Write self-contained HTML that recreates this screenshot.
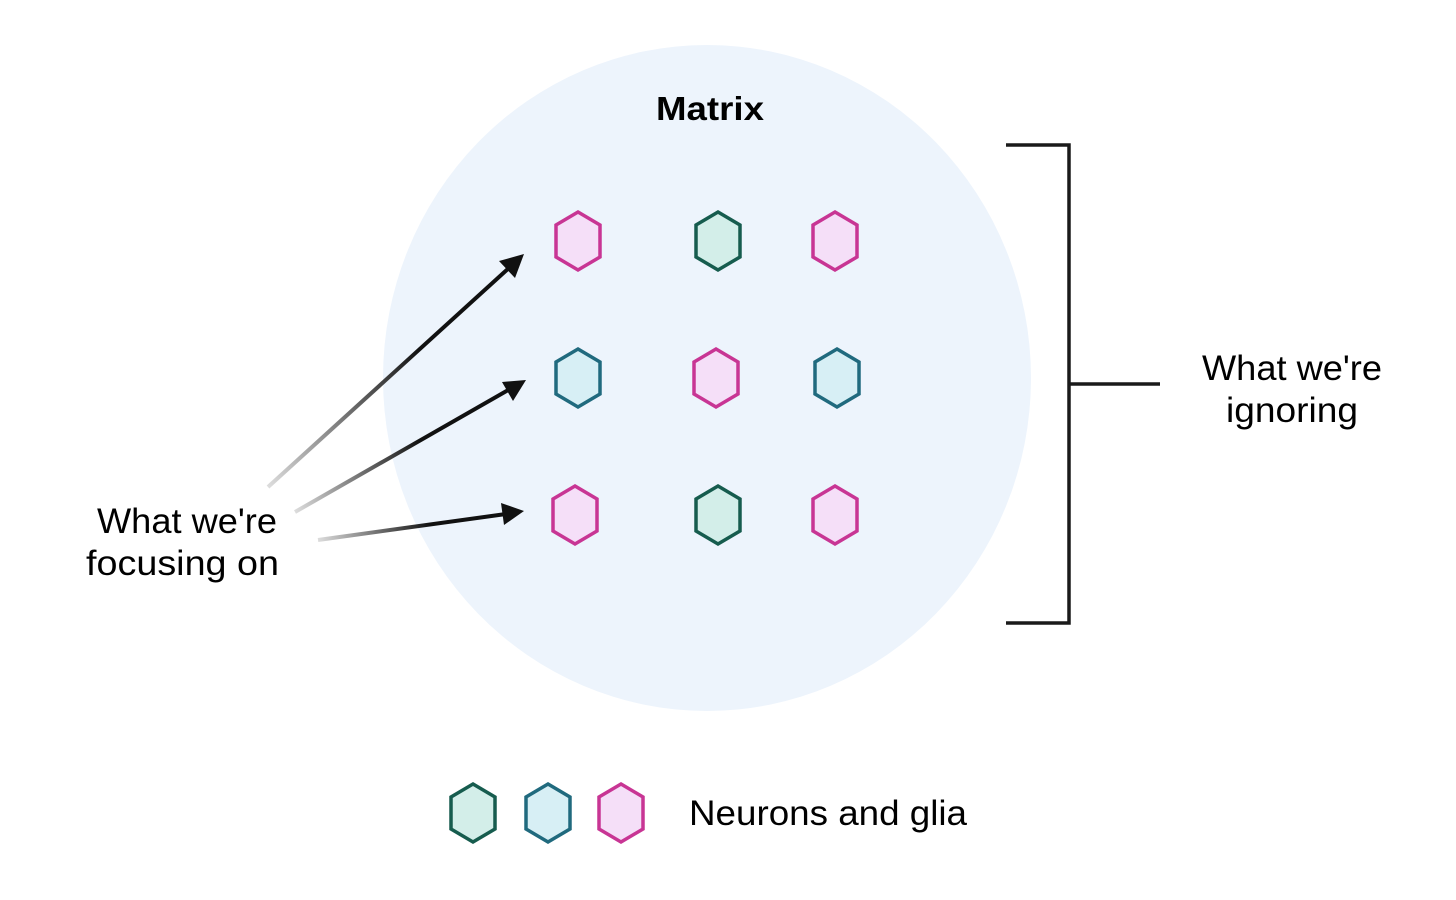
<!DOCTYPE html>
<html><head><meta charset="utf-8"><style>html,body{margin:0;padding:0;background:#fff}svg{display:block}</style></head><body>
<svg width="1456" height="900" viewBox="0 0 1456 900" xmlns="http://www.w3.org/2000/svg" font-family="Liberation Sans, sans-serif">
<defs>
<linearGradient id="g1" gradientUnits="userSpaceOnUse" x1="268" y1="487" x2="420" y2="350"><stop offset="0" stop-color="#ddd"/><stop offset="1" stop-color="#111"/></linearGradient>
<linearGradient id="g2" gradientUnits="userSpaceOnUse" x1="295" y1="512" x2="420" y2="440"><stop offset="0" stop-color="#ddd"/><stop offset="1" stop-color="#111"/></linearGradient>
<linearGradient id="g3" gradientUnits="userSpaceOnUse" x1="318" y1="540" x2="430" y2="524"><stop offset="0" stop-color="#ddd"/><stop offset="1" stop-color="#111"/></linearGradient>
</defs>
<ellipse cx="707" cy="378" rx="324" ry="333" fill="#edf4fc"/>
<text x="656" y="120" font-size="33" font-weight="bold" fill="#000" textLength="108" lengthAdjust="spacingAndGlyphs">Matrix</text>
<g stroke-width="3.5">
<polygon transform="translate(578,241)" points="0,-29 22,-16 22,16 0,29 -22,16 -22,-16" fill="#f5dff8" stroke="#c83594"/>
<polygon transform="translate(718,241)" points="0,-29 22,-16 22,16 0,29 -22,16 -22,-16" fill="#d3eee9" stroke="#165c4e"/>
<polygon transform="translate(835,241)" points="0,-29 22,-16 22,16 0,29 -22,16 -22,-16" fill="#f5dff8" stroke="#c83594"/>
<polygon transform="translate(578,378)" points="0,-29 22,-16 22,16 0,29 -22,16 -22,-16" fill="#d7eff5" stroke="#206a7e"/>
<polygon transform="translate(716,378)" points="0,-29 22,-16 22,16 0,29 -22,16 -22,-16" fill="#f5dff8" stroke="#c83594"/>
<polygon transform="translate(837,378)" points="0,-29 22,-16 22,16 0,29 -22,16 -22,-16" fill="#d7eff5" stroke="#206a7e"/>
<polygon transform="translate(575,515)" points="0,-29 22,-16 22,16 0,29 -22,16 -22,-16" fill="#f5dff8" stroke="#c83594"/>
<polygon transform="translate(718,515)" points="0,-29 22,-16 22,16 0,29 -22,16 -22,-16" fill="#d3eee9" stroke="#165c4e"/>
<polygon transform="translate(835,515)" points="0,-29 22,-16 22,16 0,29 -22,16 -22,-16" fill="#f5dff8" stroke="#c83594"/>
<polygon transform="translate(473,813)" points="0,-29 22,-16 22,16 0,29 -22,16 -22,-16" fill="#d3eee9" stroke="#165c4e"/>
<polygon transform="translate(548,813)" points="0,-29 22,-16 22,16 0,29 -22,16 -22,-16" fill="#d7eff5" stroke="#206a7e"/>
<polygon transform="translate(621,813)" points="0,-29 22,-16 22,16 0,29 -22,16 -22,-16" fill="#f5dff8" stroke="#c83594"/>
</g>
<line x1="268" y1="487" x2="510" y2="267" stroke="url(#g1)" stroke-width="4"/>
<polygon points="524,254 515,278 499,261" fill="#111"/>
<line x1="295" y1="512" x2="510" y2="389" stroke="url(#g2)" stroke-width="4"/>
<polygon points="526,380 513,401 502,382" fill="#111"/>
<line x1="318" y1="540" x2="506" y2="514" stroke="url(#g3)" stroke-width="4"/>
<polygon points="524,511 504,525 501,503" fill="#111"/>
<path d="M1006,145 H1069 V623 H1006 M1069,384 H1160" fill="none" stroke="#1a1a1a" stroke-width="3.5"/>
<g font-size="35" fill="#000" lengthAdjust="spacingAndGlyphs">
<text x="1202" y="380" textLength="180" lengthAdjust="spacingAndGlyphs">What we're</text>
<text x="1226" y="422" textLength="132" lengthAdjust="spacingAndGlyphs">ignoring</text>
<text x="97" y="533" textLength="180" lengthAdjust="spacingAndGlyphs">What we're</text>
<text x="86" y="575" textLength="193" lengthAdjust="spacingAndGlyphs">focusing on</text>
</g>
<text x="689" y="825" font-size="35" fill="#000" textLength="278" lengthAdjust="spacingAndGlyphs">Neurons and glia</text>
</svg>
</body></html>
